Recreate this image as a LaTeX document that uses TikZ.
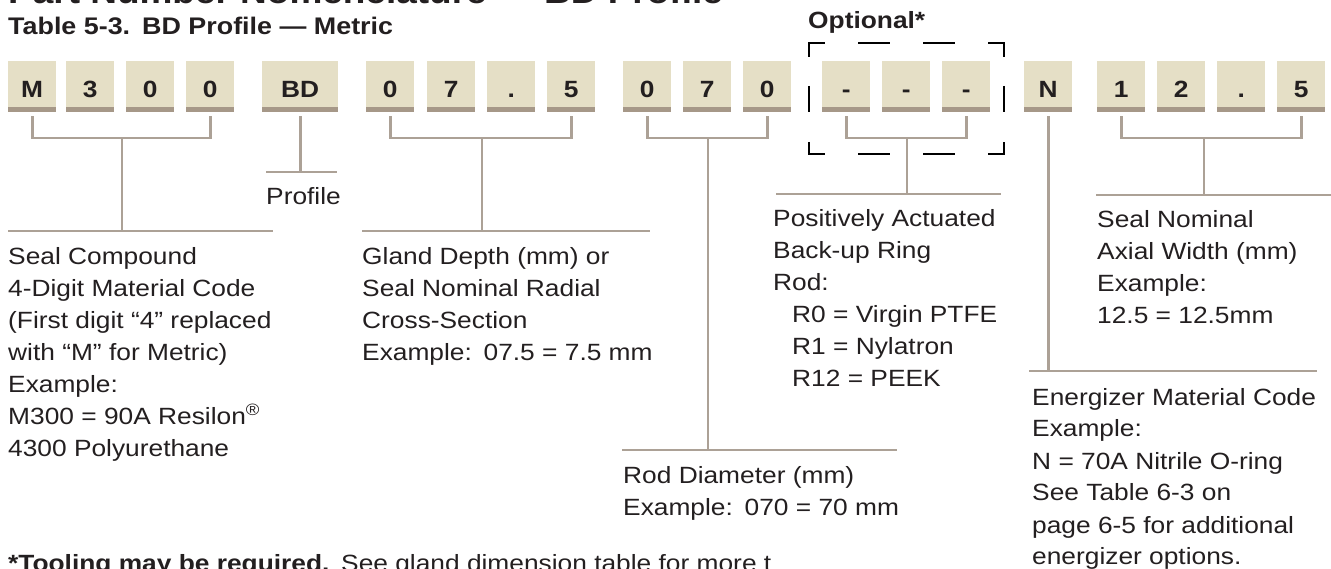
\documentclass[tikz,border=0pt]{standalone}
\usepackage{fontspec}
\setmainfont{Liberation Sans}[FakeStretch=1.12]
\definecolor{beige}{HTML}{E5DFC6}
\definecolor{barc}{HTML}{A69888}
\definecolor{connc}{HTML}{ACA196}
\definecolor{ink}{HTML}{231F20}
\newcommand\blk[1]{\begin{tabular}[t]{@{}l@{}}#1\end{tabular}}
\begin{document}
\begin{tikzpicture}[x=1pt,y=1pt,
  font=\fontsize{23.5}{32}\selectfont, text=ink,
  digit/.style={fill=beige, minimum width=48pt, minimum height=51pt, inner sep=0pt,
    anchor=north west, text height=21pt, text depth=0pt,
    font=\fontsize{23.5}{32}\selectfont\bfseries,
    path picture={\fill[barc] (path picture bounding box.south west) rectangle ([yshift=5pt]path picture bounding box.south east);}},
  conn/.style={draw=connc, line width=2.6pt},
  lbl/.style={anchor=base west, inner sep=0pt},
  brk/.style={draw=black, line width=2pt}
]
\useasboundingbox (0,0) rectangle (1331,-569);
\clip (0,0) rectangle (1331,-569);

% titles
\node[lbl, font=\fontsize{33}{40}\selectfont\bfseries] (t0) at (8,-4) {Part Number Nomenclature — BD Profile};
\node[lbl, font=\fontsize{24}{32}\selectfont\bfseries] (t1) at (8,-35) {Table 5-3.\enspace BD Profile — Metric};
\node[lbl, font=\fontsize{23.5}{32}\selectfont\bfseries] (opt) at (808,-29) {Optional*};

% boxes
\node[digit] (b1) at (8,-61) {M};
\node[digit] (b2) at (66,-61) {3};
\node[digit] (b3) at (126,-61) {0};
\node[digit] (b4) at (186,-61) {0};
\node[digit, minimum width=76pt] (b5) at (262,-61) {BD};
\node[digit] (b6) at (366,-61) {0};
\node[digit] (b7) at (427,-61) {7};
\node[digit] (b8) at (487,-61) {.};
\node[digit] (b9) at (547,-61) {5};
\node[digit] (b10) at (623,-61) {0};
\node[digit] (b11) at (683,-61) {7};
\node[digit] (b12) at (743,-61) {0};
\node[digit] (b13) at (822,-61) {-};
\node[digit] (b14) at (882,-61) {-};
\node[digit] (b15) at (942,-61) {-};
\node[digit] (b16) at (1024,-61) {N};
\node[digit] (b17) at (1097,-61) {1};
\node[digit] (b18) at (1157,-61) {2};
\node[digit] (b19) at (1217,-61) {.};
\node[digit] (b20) at (1277,-61) {5};

% optional dashed bracket
\draw[brk] (809,-57) -- (809,-43) -- (825,-43);
\draw[brk] (858,-43) -- (890,-43);
\draw[brk] (923,-43) -- (955,-43);
\draw[brk] (988,-43) -- (1004,-43) -- (1004,-57);
\draw[brk] (809,-86) -- (809,-112);
\draw[brk] (1004,-86) -- (1004,-112);
\draw[brk] (809,-142) -- (809,-154) -- (825,-154);
\draw[brk] (858,-154) -- (890,-154);
\draw[brk] (923,-154) -- (955,-154);
\draw[brk] (988,-154) -- (1004,-154) -- (1004,-142);

% helper levels
\coordinate (hl) at (0,-138);

% labels
\node[lbl] (L1) at (8,-265) {\blk{Seal Compound\\4-Digit Material Code\\(First digit “4” replaced\\with “M” for Metric)\\Example:\\M300 = 90A Resilon\textsuperscript{®}\\4300 Polyurethane}};
\node[lbl] (Lp) at (266,-205) {Profile};
\node[lbl] (L2) at (362,-265) {\blk{Gland Depth (mm) or\\Seal Nominal Radial\\Cross-Section\\Example:\enspace 07.5 = 7.5 mm}};
\node[lbl] (L3) at (773,-227) {\blk{Positively Actuated\\Back-up Ring\\Rod:\\\hspace{19pt}R0 = Virgin PTFE\\\hspace{19pt}R1 = Nylatron\\\hspace{19pt}R12 = PEEK}};
\node[lbl] (L4) at (1097,-228) {\blk{Seal Nominal\\Axial Width (mm)\\Example:\\12.5 = 12.5mm}};
\node[lbl] (L5) at (1032,-405) {\blk{Energizer Material Code\\Example:\\N = 70A Nitrile O-ring\\See Table 6-3 on\\page 6-5 for additional\\energizer options.}};
\node[lbl] (L6) at (623,-483) {\blk{Rod Diameter (mm)\\Example:\enspace 070 = 70 mm}};
\node[lbl] (foot) at (8,-571) {\textbf{*Tooling may be required.}\enspace See gland dimension table for more t};

% rule end points
\coordinate (r1a) at (8,-231);   \coordinate (r1b) at (273,-231);  \coordinate (d1) at (122,-231);
\coordinate (rpa) at (266,-172); \coordinate (rpb) at (337,-172);
\coordinate (r2a) at (362,-231); \coordinate (r2b) at (650,-231);  \coordinate (d2) at (482,-231);
\coordinate (r3a) at (622,-450); \coordinate (r3b) at (897,-450);  \coordinate (d3) at (708,-450);
\coordinate (r4a) at (776,-194); \coordinate (r4b) at (1001,-194); \coordinate (d4) at (907,-194);
\coordinate (r5a) at (1096,-195);\coordinate (r5b) at (1331,-195); \coordinate (d5) at (1204,-195);
\coordinate (rna) at (1029,-371);\coordinate (rnb) at (1317,-371);

% connectors
\draw[conn] ([yshift=-4pt]b1.south) -- (b1.south |- hl) -- (b4.south |- hl) -- ([yshift=-4pt]b4.south);
\draw[conn] (d1 |- hl) -- (d1);
\draw[conn] (r1a) -- (r1b);

\draw[conn] ([yshift=-4pt]b5.south) -- (b5.south |- rpa);
\draw[conn] (rpa) -- (rpb);

\draw[conn] ([yshift=-4pt]b6.south) -- (b6.south |- hl) -- (b9.south |- hl) -- ([yshift=-4pt]b9.south);
\draw[conn] (d2 |- hl) -- (d2);
\draw[conn] (r2a) -- (r2b);

\draw[conn] ([yshift=-4pt]b10.south) -- (b10.south |- hl) -- (b12.south |- hl) -- ([yshift=-4pt]b12.south);
\draw[conn] (d3 |- hl) -- (d3);
\draw[conn] (r3a) -- (r3b);

\draw[conn] ([yshift=-4pt]b13.south) -- (b13.south |- hl) -- (b15.south |- hl) -- ([yshift=-4pt]b15.south);
\draw[conn] (d4 |- hl) -- (d4);
\draw[conn] (r4a) -- (r4b);

\draw[conn] ([yshift=-4pt]b16.south) -- (b16.south |- rna);
\draw[conn] (rna) -- (rnb);

\draw[conn] ([yshift=-4pt]b17.south) -- (b17.south |- hl) -- (b20.south |- hl) -- ([yshift=-4pt]b20.south);
\draw[conn] (d5 |- hl) -- (d5);
\draw[conn] (r5a) -- (r5b);
\end{tikzpicture}
\end{document}
